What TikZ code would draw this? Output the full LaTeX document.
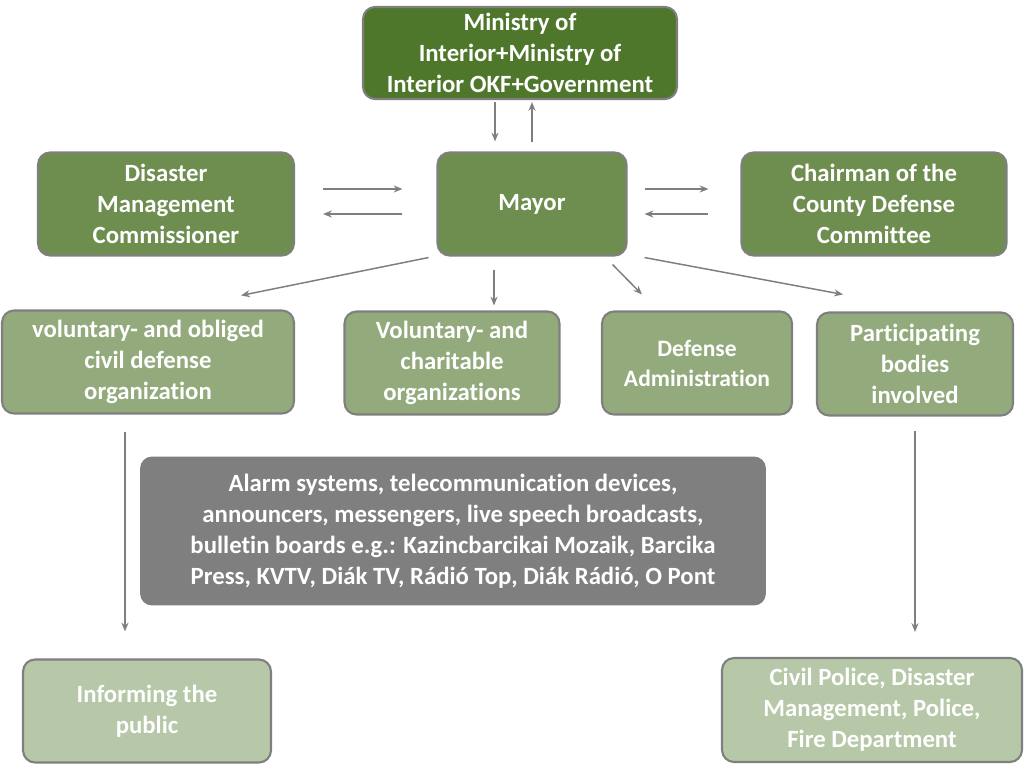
\documentclass[tikz,border=0pt]{standalone}
\usepackage{fontspec}
\setmainfont{Carlito}[Ligatures=NoCommon]
\usepackage{tikz}
\usetikzlibrary{arrows.meta, positioning}

\definecolor{dkgreen}{HTML}{4F772C}
\definecolor{midgreen}{HTML}{6E8E4F}
\definecolor{ltgreen}{HTML}{93AA7C}
\definecolor{palegreen}{HTML}{B6C8A8}
\definecolor{edgegray}{HTML}{7F7F7F}

\tikzset{
    box/.style={draw=edgegray, line width=1.2pt, rounded corners=0.24cm,
        align=center, text=white, inner sep=0pt,
        font=\fontsize{14.1}{17.6}\selectfont\bfseries},
    arr/.style={->, draw=edgegray, line width=0.85pt}
}

\begin{document}
\begin{tikzpicture}[x=0.02cm, y=-0.02cm, >={Stealth[length=5pt,width=4pt]}]
    \useasboundingbox (0,0) rectangle (1024,774);

    % Niveau haut
    \node[box, fill=dkgreen, minimum width=6.28cm, minimum height=1.84cm] (min) at (520,53)
        {Ministry of\\Interior+Ministry of\\Interior OKF+Government};

    % Niveau du maire
    \node[box, fill=midgreen, minimum width=3.78cm, minimum height=2.06cm] (may) at (532,204) {\raisebox{-2pt}{Mayor}};
    \node[box, fill=midgreen, minimum width=5.12cm, minimum height=2.06cm] (dmc) at (166,204)
        {Disaster\\Management\\Commissioner};
    \node[box, fill=midgreen, minimum width=5.3cm, minimum height=2.06cm] (cha) at (874,204)
        {Chairman of the\\County Defense\\Committee};

    % Organisations
    \node[box, fill=ltgreen, minimum width=5.84cm, minimum height=2.06cm] (vol) at (148,362)
        {voluntary- and obliged\\civil defense\\organization};
    \node[box, fill=ltgreen, minimum width=4.3cm, minimum height=2.06cm] (chr) at (452,363)
        {Voluntary- and\\charitable\\organizations};
    \node[box, fill=ltgreen, minimum width=3.8cm, minimum height=2.06cm,
        font=\fontsize{13.4}{17}\selectfont\bfseries] (def) at (697,363)
        {Defense\\Administration};
    \node[box, fill=ltgreen, minimum width=3.92cm, minimum height=2.06cm] (par) at (915,364)
        {Participating\\bodies\\involved};

    % Moyens
    \node[box, fill=edgegray, draw=none, minimum width=12.52cm, minimum height=2.98cm] (dev) at (453,531)
        {Alarm systems, telecommunication devices,\\announcers, messengers, live speech broadcasts,\\bulletin boards e.g.: Kazincbarcikai Mozaik, Barcika\\Press, KVTV, Diák TV, Rádió Top, Diák Rádió, O Pont};

    % Niveau bas
    \node[box, fill=palegreen, minimum width=4.96cm, minimum height=2.06cm] (inf) at (147,711)
        {Informing the\\public};
    \node[box, fill=palegreen, minimum width=6cm, minimum height=2.08cm] (civ) at (872,710)
        {Civil Police, Disaster\\Management, Police,\\Fire Department};

    % Flèches
    \draw[arr] ([shift={(-25,2)}]min.south) -- ([shift={(-37,-10)}]may.north);
    \draw[arr] ([shift={(0,-9)}]may.north) -- ([shift={(12,2)}]min.south);
    \draw[arr] ([shift={(28,-15)}]dmc.east) -- ([shift={(-34,-15)}]may.west);
    \draw[arr] ([shift={(-34,10)}]may.west) -- ([shift={(28,10)}]dmc.east);
    \draw[arr] ([shift={(17,-15)}]may.east) -- ([shift={(-32,-15)}]cha.west);
    \draw[arr] ([shift={(-32,10)}]cha.west) -- ([shift={(17,10)}]may.east);
    \draw[arr] ([shift={(-8,1)}]may.south west) -- ([shift={(93,-14)}]vol.north);
    \draw[arr] ([shift={(-38,13)}]may.south) -- ([shift={(42,-5)}]chr.north);
    \draw[arr] ([shift={(-15,8)}]may.south east) -- ([shift={(-55,-16)}]def.north);
    \draw[arr] ([shift={(17,1)}]may.south east) -- ([shift={(-72,-17)}]par.north);
    \draw[arr] ([shift={(-23,17)}]vol.south) -- ([shift={(-22,-27)}]inf.north);
    \draw[arr] ([shift={(0,14)}]par.south) -- ([shift={(43,-25)}]civ.north);

\end{tikzpicture}
\end{document}
